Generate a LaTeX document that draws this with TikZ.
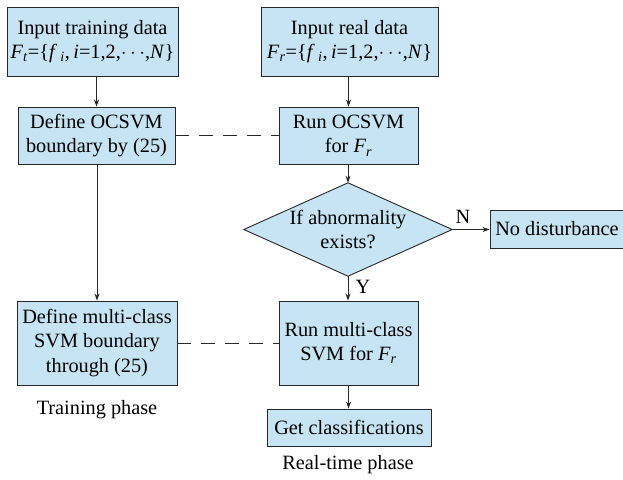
\documentclass[tikz,border=0pt]{standalone}
\usepackage{fontspec}
\setmainfont{Liberation Serif}
\usetikzlibrary{arrows.meta}
\definecolor{boxfill}{RGB}{198,228,243}
\definecolor{edge}{RGB}{40,40,40}
\newcommand{\mysub}[1]{\textsubscript{\textit{#1}}}
\tikzset{
  box/.style={draw=edge, fill=boxfill, line width=0.9pt, inner sep=0pt, align=center, font=\fontsize{20.3}{24.5}\selectfont},
  lbl/.style={inner sep=0pt, align=center, font=\fontsize{20.3}{24.5}\selectfont},
  arr/.style={draw=edge, line width=0.9pt, -{Stealth[length=7pt,width=5pt]}},
  dsh/.style={draw=edge, line width=0.9pt, dash pattern=on 14pt off 10pt},
}
\begin{document}
\begin{tikzpicture}[x=1pt,y=-1pt]
\useasboundingbox (0,0) rectangle (623,479);
\node[box, minimum width=171pt, minimum height=69pt] (b1) at (92.5,41.5)
  {Input training data\\\textit{F}\mysub{t}=\{\textit{f}\,\mysub{i},\,\textit{i}=1,2,$\cdots$,\textit{N}\}};
\node[box, minimum width=157pt, minimum height=57pt] (b2) at (96.5,135.5)
  {Define OCSVM\\boundary by (25)};
\node[box, minimum width=177pt, minimum height=69pt] (b3) at (349.5,41.5)
  {Input real data\\\textit{F}\mysub{r}=\{\textit{f}\,\mysub{i},\,\textit{i}=1,2,$\cdots$,\textit{N}\}};
\node[box, minimum width=139pt, minimum height=57pt] (b4) at (348.5,135.5)
  {Run OCSVM\\for \textit{F}\mysub{r}};
\node[minimum width=208pt, minimum height=93pt, inner sep=0pt] (dia) at (348,229.5) {};
\draw[draw=edge, fill=boxfill, line width=0.9pt] (dia.north) -- (dia.east) -- (dia.south) -- (dia.west) -- cycle;
\node[lbl] at (dia.center) {If abnormality\\exists?};
\node[box, minimum width=134pt, minimum height=38pt] (nd) at (557,229) {No disturbance};
\node[box, minimum width=139pt, minimum height=84pt] (b5) at (348.5,343)
  {Run multi-class\\SVM for \textit{F}\mysub{r}};
\node[box, minimum width=160pt, minimum height=84pt] (b6) at (97,343)
  {Define multi-class\\SVM boundary\\through (25)};
\node[box, minimum width=164pt, minimum height=37pt] (b7) at (349,427.5) {Get classifications};
\node[lbl] (tp) at (97,410) {Training phase};
\node[lbl] (rp) at (348,465) {Real-time phase};
\node[lbl] (nl) at (463,217) {N};
\node[lbl] (yl) at (363,287) {Y};
\draw[arr] (b2.north |- b1.south) -- (b2.north);
\draw[arr] (b2.south -| b6.north) -- (b6.north);
\draw[arr] (b4.north |- b3.south) -- (b4.north);
\draw[arr] (b4.south -| dia.north) -- (dia.north);
\draw[arr] (dia.east) -- (nd.west |- dia.east);
\draw[arr] (dia.south) -- (b5.north -| dia.south);
\draw[arr] (b5.south) -- (b7.north -| b5.south);
\draw[dsh] (b2.east) -- (b4.west);
\draw[dsh] (b6.east) -- (b5.west);
\end{tikzpicture}
\end{document}
